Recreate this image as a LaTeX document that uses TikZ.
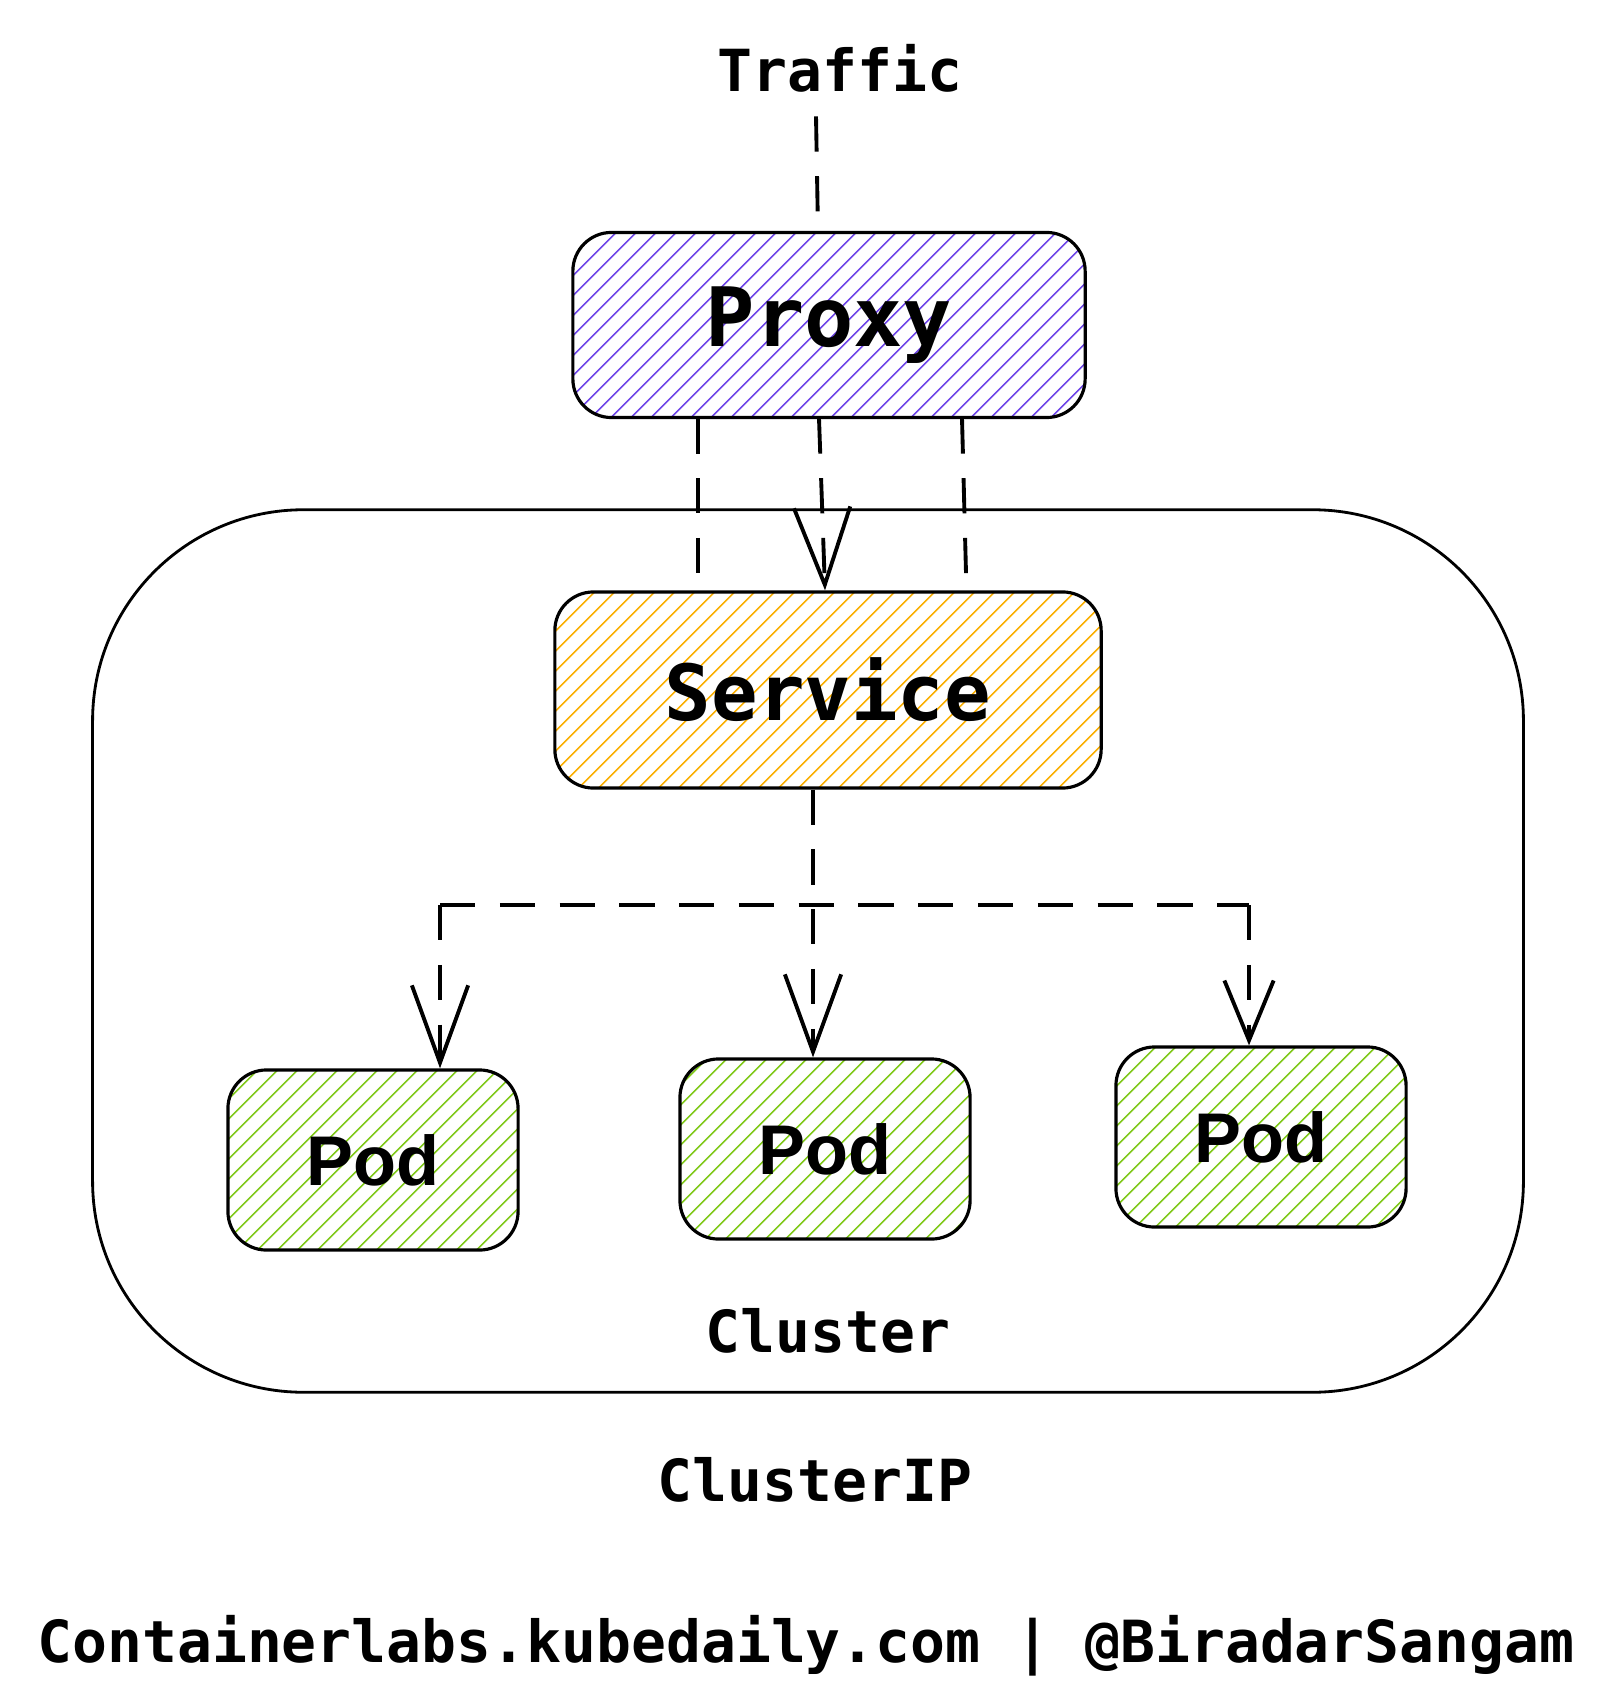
\documentclass[tikz,border=0pt]{standalone}
\usepackage{fontspec}
\setmonofont{DejaVu Sans Mono}
\newfontfamily\podfamily{Liberation Sans}
\usetikzlibrary{arrows.meta,calc,patterns.meta}

\definecolor{proxyhatch}{HTML}{7048E8}
\definecolor{servicehatch}{HTML}{FAB005}
\definecolor{podhatch}{HTML}{82C91E}

\tikzset{
  hatched/.style={draw,line width=0.9pt,rounded corners=11pt,inner sep=0pt,
    pattern={Lines[angle=45,distance=4pt,line width=0.5pt]}},
  podbox/.style={hatched,pattern color=podhatch,minimum width=2.9cm,minimum height=1.8cm,
    font=\podfamily\bfseries\fontsize{20}{24}\selectfont},
  caption/.style={font=\ttfamily\bfseries\fontsize{16.5}{20}\selectfont},
  flow/.style={line width=1.1pt,dash pattern=on 10pt off 7pt},
  tip/.style={-{Straight Barb[length=22pt,width=16pt]}},
  smalltip/.style={-{Straight Barb[length=17pt,width=14pt]}},
}

\begin{document}
\begin{tikzpicture}[x=0.01cm,y=-0.01cm]
	\useasboundingbox (0,0) rectangle (1608,1707);
	
	% Cluster frame
	\node[draw,line width=0.8pt,rounded corners=60pt,minimum width=14.3cm,minimum height=8.82cm] (cluster) at (808,951) {};
	
	% Boxes
	\node[caption] (traffic) at (840,68) {Traffic};
	\node[hatched,pattern color=proxyhatch,minimum width=5.12cm,minimum height=1.85cm,
		font=\ttfamily\bfseries\fontsize{23.3}{28}\selectfont] (proxy) at (829,325) {Proxy};
	\node[hatched,pattern color=servicehatch,minimum width=5.46cm,minimum height=1.96cm,
		font=\ttfamily\bfseries\fontsize{22}{26}\selectfont] (service) at (828,690) {Service};
	\node[podbox] (podleft) at (373,1160) {Pod};
	\node[podbox] (podmid) at (825,1149) {Pod};
	\node[podbox] (podright) at (1261,1137) {Pod};
	
	% Labels
	\node[caption] (clusterlbl) at (828,1331) {Cluster};
	\node[caption] (clusterip) at (815,1480) {ClusterIP};
	\node[caption] (credit) at (806,1646) {Containerlabs.kubedaily.com | @BiradarSangam};
	
	% Traffic into the proxy
	\draw[flow] ($(traffic.south)+(-24,12)$) -- ($(proxy.north)+(-11,0)$);
	
	% Proxy to service
	\draw[flow] ($(proxy.south)+(-131,0)$) -- ($(service.north)+(-130,-17)$);
	\draw[flow,tip] ($(proxy.south)+(-10,0)$) -- ($(service.north)+(-3,0)$);
	\draw[flow] ($(proxy.south)+(133,0)$) -- ($(service.north)+(138,-17)$);
	
	% Service to pods
	\coordinate (forkL) at (440,905);
	\coordinate (forkR) at (1249,905);
	\draw[flow,tip] ($(service.south)+(-15,0)$) -- ($(podmid.north)+(-12,0)$);
	\draw[flow] (forkL) -- (forkR);
	\draw[flow,tip] (forkL) -- (forkL |- podleft.north);
	\draw[flow,smalltip] (forkR) -- (forkR |- podright.north);
\end{tikzpicture}
\end{document}
